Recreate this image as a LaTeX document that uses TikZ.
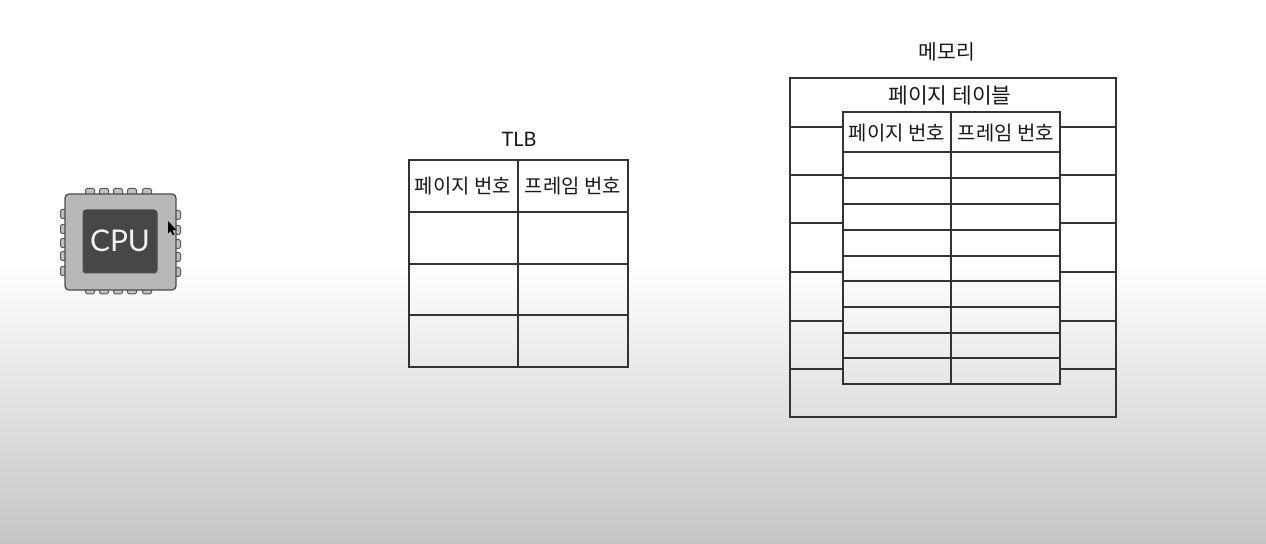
\documentclass[tikz,border=0pt]{standalone}
\usepackage{fontspec}
\setmainfont{Noto Sans CJK KR}
\newfontfamily\latinf{Lato}
\begin{document}
\begin{tikzpicture}[x=1bp,y=-1bp,
  grid/.style={draw=black!80,line width=1.4bp},
  lab/.style={font=\fontsize{20}{20}\selectfont,text=black!90,inner sep=0pt},
  pin/.style={draw=black!65,fill=black!25,line width=1bp,rounded corners=1.5bp},
]
\useasboundingbox (0,0) rectangle (1266,544);
\fill[white] (0,0) rectangle (1266,262);
\shade[top color=white,bottom color=black!23,shading angle=0] (0,261) rectangle (1266,544);
% TLB
\node[lab] (tlbt) at (519,139) {\latinf TLB};
\draw[grid] (409,160) rectangle (628,367);
\draw[grid] (518,160) -- (518,367);
\foreach \y in {212,264,315} \draw[grid] (409,\y) -- (628,\y);
\node[lab] (tp) at (463,186) {페이지 번호};
\node[lab] (tf) at (573,186) {프레임 번호};
% memory
\node[lab,font=\fontsize{20.5}{20.5}\selectfont] (memt) at (947,52) {메모리};
\draw[grid] (790,78) rectangle (1116,417);
\foreach \y in {127,175,223,272,321,369} {
  \draw[grid] (790,\y) -- (843,\y);
  \draw[grid] (1060,\y) -- (1116,\y);
}
\node[lab,font=\fontsize{21.5}{21.5}\selectfont] (pt) at (950,95) {페이지 테이블};
\draw[grid] (843,112) rectangle (1060,384);
\draw[grid] (951,112) -- (951,384);
\foreach \y in {152,178,204,230,256,281,307,333,358} \draw[grid] (843,\y) -- (1060,\y);
\node[lab] (mp) at (897,133) {페이지 번호};
\node[lab] (mf) at (1006,133) {프레임 번호};
% CPU
\foreach \x in {90,104,118,132,147} {
  \draw[pin] (\x-4.5,188.5) rectangle (\x+4.5,197);
  \draw[pin] (\x-4.5,287) rectangle (\x+4.5,294);
}
\foreach \y in {214,229,243,256,271} {
  \draw[pin] (60.5,\y-4.5) rectangle (68,\y+4.5);
  \draw[pin] (173,\y-3.5) rectangle (180.5,\y+5.5);
}
\draw[draw=black!70,fill=black!28,line width=1.3bp,rounded corners=4bp] (65,194) rectangle (176,290);
\draw[draw=black!70,fill=black!72,line width=1bp,rounded corners=3bp] (83,210) rectangle (157,273);
\node[font=\fontsize{30}{30}\selectfont\latinf,text=black!5,inner sep=0pt] (cpu) at (120,241) {CPU};
\fill[black] (168,221) -- (176.5,230) -- (172.5,230.2) -- (174.5,234.5) -- (172.8,235.3) -- (170.6,231) -- (168,233.5) -- cycle;
\end{tikzpicture}
\end{document}
